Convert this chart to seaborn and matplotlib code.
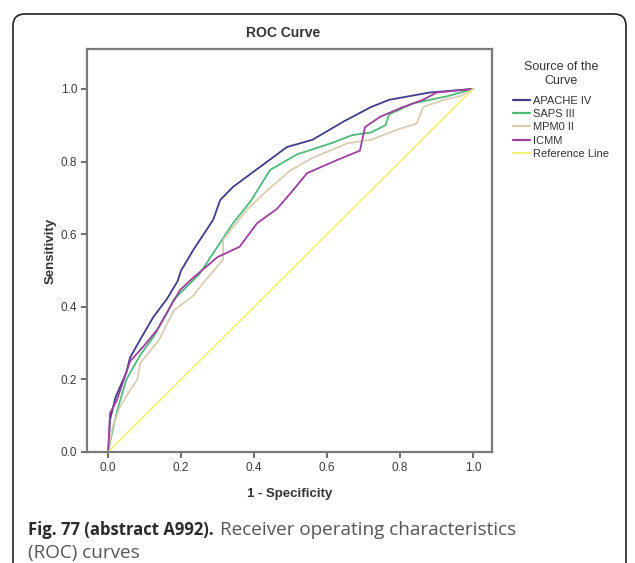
import pandas as pd
import matplotlib.pyplot as plt
import seaborn as sns
from matplotlib.patches import FancyBboxPatch

# values (1 - specificity, sensitivity)
sources = ['APACHE IV', 'SAPS III', 'MPM0 II', 'ICMM', 'Reference Line']

apache_x = [0, 0.005, 0.02, 0.05, 0.06, 0.088, 0.124, 0.16, 0.19, 0.2, 0.233, 0.288, 0.307,
            0.342, 0.416, 0.49, 0.56, 0.645, 0.72, 0.77, 0.88, 1.0]
apache_y = [0, 0.088, 0.15, 0.22, 0.26, 0.31, 0.372, 0.42, 0.47, 0.5, 0.556, 0.64, 0.694,
            0.73, 0.785, 0.84, 0.86, 0.91, 0.95, 0.97, 0.99, 1.0]

saps_x = [0, 0.01, 0.025, 0.05, 0.088, 0.124, 0.16, 0.18, 0.25, 0.342, 0.39, 0.444,
          0.518, 0.61, 0.67, 0.72, 0.76, 0.77, 0.835, 0.93, 1.0]
saps_y = [0, 0.05, 0.115, 0.2, 0.267, 0.317, 0.38, 0.42, 0.49, 0.63, 0.69, 0.777,
          0.82, 0.85, 0.873, 0.88, 0.9, 0.93, 0.96, 0.98, 1.0]

mpm_x = [0, 0.01, 0.03, 0.06, 0.08, 0.088, 0.14, 0.18, 0.233, 0.26, 0.315, 0.315, 0.38,
         0.435, 0.5, 0.56, 0.655, 0.72, 0.79, 0.846, 0.863, 0.92, 0.965, 1.0]
mpm_y = [0, 0.06, 0.12, 0.17, 0.2, 0.245, 0.31, 0.39, 0.43, 0.465, 0.53, 0.584, 0.667,
         0.72, 0.776, 0.81, 0.85, 0.86, 0.887, 0.905, 0.95, 0.97, 0.98, 1.0]

icmm_x = [0, 0.005, 0.024, 0.06, 0.096, 0.134, 0.17, 0.197, 0.233, 0.3, 0.36, 0.408,
          0.463, 0.5, 0.545, 0.627, 0.69, 0.704, 0.745, 0.808, 0.863, 0.9, 1.0]
icmm_y = [0, 0.107, 0.143, 0.25, 0.29, 0.336, 0.4, 0.446, 0.48, 0.537, 0.565, 0.63,
          0.67, 0.713, 0.768, 0.804, 0.83, 0.895, 0.923, 0.95, 0.97, 0.99, 1.0]

ref_x = [0, 1.0]
ref_y = [0, 1.0]

colors = ['#3d3d8c', '#4cbb7a', '#d9ceb2', '#9e3f9e', '#f3f37c']

frames = []
for name, xs, ys in zip(sources,
                        [apache_x, saps_x, mpm_x, icmm_x, ref_x],
                        [apache_y, saps_y, mpm_y, icmm_y, ref_y]):
    frames.append(pd.DataFrame({'fpr': xs, 'tpr': ys, 'source': name}))
df = pd.concat(frames, ignore_index=True)

sns.set_style('white')
plt.rcParams['font.family'] = ['Liberation Sans', 'DejaVu Sans']

fig = plt.figure(figsize=(6.35, 5.63), dpi=100)
ax = fig.add_axes([87 / 635, 1 - 452 / 563, 405 / 635, 403 / 563])

sns.lineplot(data=df, x='fpr', y='tpr', hue='source', hue_order=sources,
             palette=colors, estimator=None, sort=False, linewidth=1.3, ax=ax)

ax.set_xlim(-0.058, 1.052)
ax.set_ylim(0, 1.11)
ax.set_xticks([0, 0.2, 0.4, 0.6, 0.8, 1.0])
ax.set_yticks([0, 0.2, 0.4, 0.6, 0.8, 1.0])
ax.set_xticklabels(['0.0', '0.2', '0.4', '0.6', '0.8', '1.0'])
ax.set_yticklabels(['0.0', '0.2', '0.4', '0.6', '0.8', '1.0'])
ax.tick_params(axis='both', direction='out', length=4, width=1.2, color='#555555',
               labelsize=8.5, labelcolor='#3a3a3a', pad=3, bottom=True, left=True)
for sp in ax.spines.values():
    sp.set_color('#7a7a7a')
    sp.set_linewidth(1.6)

ax.set_xlabel('1 - Specificity', fontsize=9.5, fontweight='bold', color='#333333', labelpad=10)
ax.set_ylabel('Sensitivity', fontsize=9.5, fontweight='bold', color='#333333', labelpad=3)
fig.text(283 / 635, 1 - 33 / 563, 'ROC Curve', ha='center', va='center',
         fontsize=10, fontweight='bold', color='#333333')

leg = ax.legend(title='Source of the\nCurve', loc='upper left',
                bbox_to_anchor=(509 / 635, 1 - 57 / 563), bbox_transform=fig.transFigure,
                frameon=False, fontsize=8, title_fontsize=9, handlelength=1.5,
                handletextpad=0.25, labelspacing=0.3, borderaxespad=0)
leg.set_alignment('center')
leg._legend_box.sep = 6
leg.get_title().set_multialignment('center')
leg.get_title().set_color('#333333')
for t in leg.get_texts():
    t.set_color('#333333')
for h in leg.get_lines():
    h.set_linewidth(1.6)

# rounded frame around the figure
frame = FancyBboxPatch((0.13, -0.3), 6.13, 5.79, boxstyle='round,pad=0,rounding_size=0.12',
                       transform=fig.dpi_scale_trans, fill=False, edgecolor='#222222',
                       linewidth=1.2, clip_on=False)
fig.patches.append(frame)

# caption
cap_font = ['Open Sans', 'DejaVu Sans']
t1 = fig.text(28 / 635, 1 - 530 / 563, 'Fig. 77 (abstract A992).', ha='left', va='center',
              fontsize=12, fontweight='bold', color='#2a2a2a', family=cap_font)
fig.canvas.draw()
bb = t1.get_window_extent(renderer=fig.canvas.get_renderer())
fig.text(bb.x1 / fig.bbox.width + 0.01, 1 - 530 / 563, 'Receiver operating characteristics',
         ha='left', va='center', fontsize=13.6, color='#555555', family=cap_font)
fig.text(28 / 635, 1 - 553 / 563, '(ROC) curves', ha='left', va='center',
         fontsize=13.6, color='#555555', family=cap_font)

fig.savefig('out.png', dpi=100)
